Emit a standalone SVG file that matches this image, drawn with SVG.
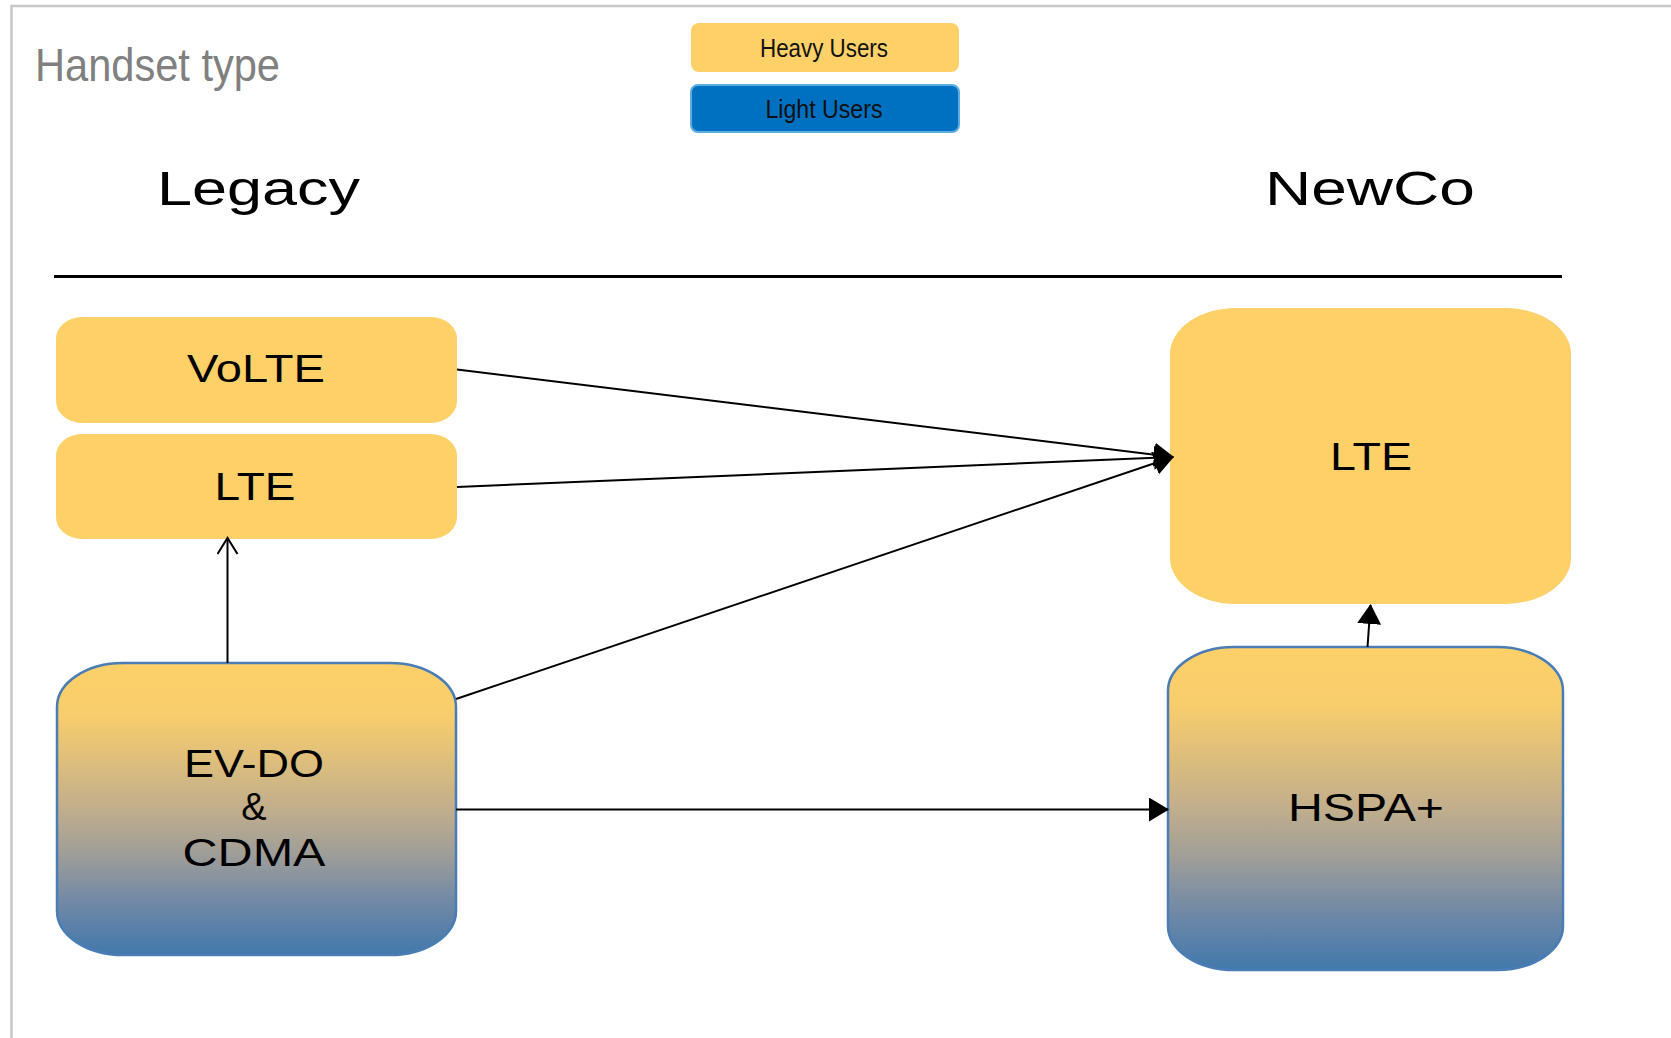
<svg xmlns="http://www.w3.org/2000/svg" width="1671" height="1038" viewBox="0 0 1671 1038">
<style>
.lbl{font-family:"Liberation Sans",Arial,sans-serif;font-size:38px;fill:#000;text-anchor:middle}
.hdr{font-family:"Liberation Sans",Arial,sans-serif;font-size:48px;fill:#000}
.leg{font-family:"Liberation Sans",Arial,sans-serif;font-size:25px;fill:#111;text-anchor:middle}
.yel{fill:#FDD068}
.grad{fill:url(#g);stroke:#4A7DB5;stroke-width:2.5}
.conn{stroke:#000;stroke-width:2;fill:none}
</style>
<defs>
<linearGradient id="g" x1="0" y1="0" x2="0" y2="1">
<stop offset="0" stop-color="#FDD068"/>
<stop offset="0.18" stop-color="#F8CD6C"/>
<stop offset="0.5" stop-color="#C1AE8C"/>
<stop offset="0.65" stop-color="#A09E98"/>
<stop offset="0.82" stop-color="#7089A6"/>
<stop offset="1" stop-color="#4178AB"/>
</linearGradient>
<marker id="fa" markerUnits="userSpaceOnUse" viewBox="0 0 20 24" refX="19" refY="12" markerWidth="20" markerHeight="24" orient="auto">
<path d="M0,0 L20,12 L0,24 Z" fill="#000"/>
</marker>
<marker id="oa" markerUnits="userSpaceOnUse" viewBox="0 0 20 22" refX="18" refY="11" markerWidth="20" markerHeight="22" orient="auto">
<path d="M2,1 L18,11 L2,21" fill="none" stroke="#000" stroke-width="2"/>
</marker>
</defs>
<rect width="1671" height="1038" fill="#fff"/>
<g id="frame">
<path d="M11.5,1038 L11.5,6 L1671,6" fill="none" stroke="#C8C8C8" stroke-width="2.5"/>
</g>
<text x="35" y="81" font-family="Liberation Sans, Arial, sans-serif" font-size="46" fill="#808080" textLength="245" lengthAdjust="spacingAndGlyphs">Handset type</text>
<g id="legend-heavy">
<rect x="691" y="23" width="268" height="49" rx="8" class="yel"/>
<text x="824" y="57" class="leg" textLength="128" lengthAdjust="spacingAndGlyphs">Heavy Users</text>
</g>
<g id="legend-light">
<rect x="691" y="85" width="268" height="47" rx="7" fill="#0070C0" stroke="#5DADE2" stroke-width="2"/>
<text x="824" y="118" class="leg" textLength="117" lengthAdjust="spacingAndGlyphs">Light Users</text>
</g>
<text x="157" y="205" class="hdr" textLength="203" lengthAdjust="spacingAndGlyphs">Legacy</text>
<text x="1265" y="205" class="hdr" textLength="210" lengthAdjust="spacingAndGlyphs">NewCo</text>
<line x1="54" y1="276.5" x2="1562" y2="276.5" stroke="#000" stroke-width="3"/>
<g id="volte">
<rect x="56" y="317" width="401" height="106" rx="26" ry="22" class="yel"/>
<text x="256" y="382" class="lbl" textLength="138" lengthAdjust="spacingAndGlyphs">VoLTE</text>
</g>
<g id="lte-legacy">
<rect x="56" y="434" width="401" height="105" rx="26" ry="22" class="yel"/>
<text x="255" y="500" class="lbl" textLength="81" lengthAdjust="spacingAndGlyphs">LTE</text>
</g>
<g id="lte-newco">
<rect x="1170" y="308" width="401" height="296" rx="66" ry="46" class="yel"/>
<text x="1371" y="470" class="lbl" textLength="82" lengthAdjust="spacingAndGlyphs">LTE</text>
</g>
<g id="evdo">
<rect x="57" y="663" width="399" height="292" rx="66" ry="44" class="grad"/>
<text x="254" y="777" class="lbl" textLength="140" lengthAdjust="spacingAndGlyphs">EV-DO</text>
<text x="254" y="820" class="lbl">&amp;</text>
<text x="254" y="866" class="lbl" textLength="143" lengthAdjust="spacingAndGlyphs">CDMA</text>
</g>
<g id="hspa">
<rect x="1168" y="647" width="395" height="323" rx="66" ry="44" class="grad"/>
<text x="1366" y="821" class="lbl" textLength="156" lengthAdjust="spacingAndGlyphs">HSPA+</text>
</g>
<g id="connectors">
<line x1="457" y1="369.5" x2="1173" y2="457" class="conn" marker-end="url(#fa)"/>
<line x1="457" y1="487" x2="1173" y2="457" class="conn" marker-end="url(#fa)"/>
<line x1="456" y1="699" x2="1173" y2="457" class="conn" marker-end="url(#fa)"/>
<line x1="227.5" y1="663" x2="227.5" y2="538" class="conn" marker-end="url(#oa)"/>
<line x1="456" y1="809.5" x2="1168" y2="809.5" class="conn" marker-end="url(#fa)"/>
<line x1="1367.5" y1="647" x2="1370.5" y2="605" class="conn" marker-end="url(#fa)"/>
</g>
</svg>
